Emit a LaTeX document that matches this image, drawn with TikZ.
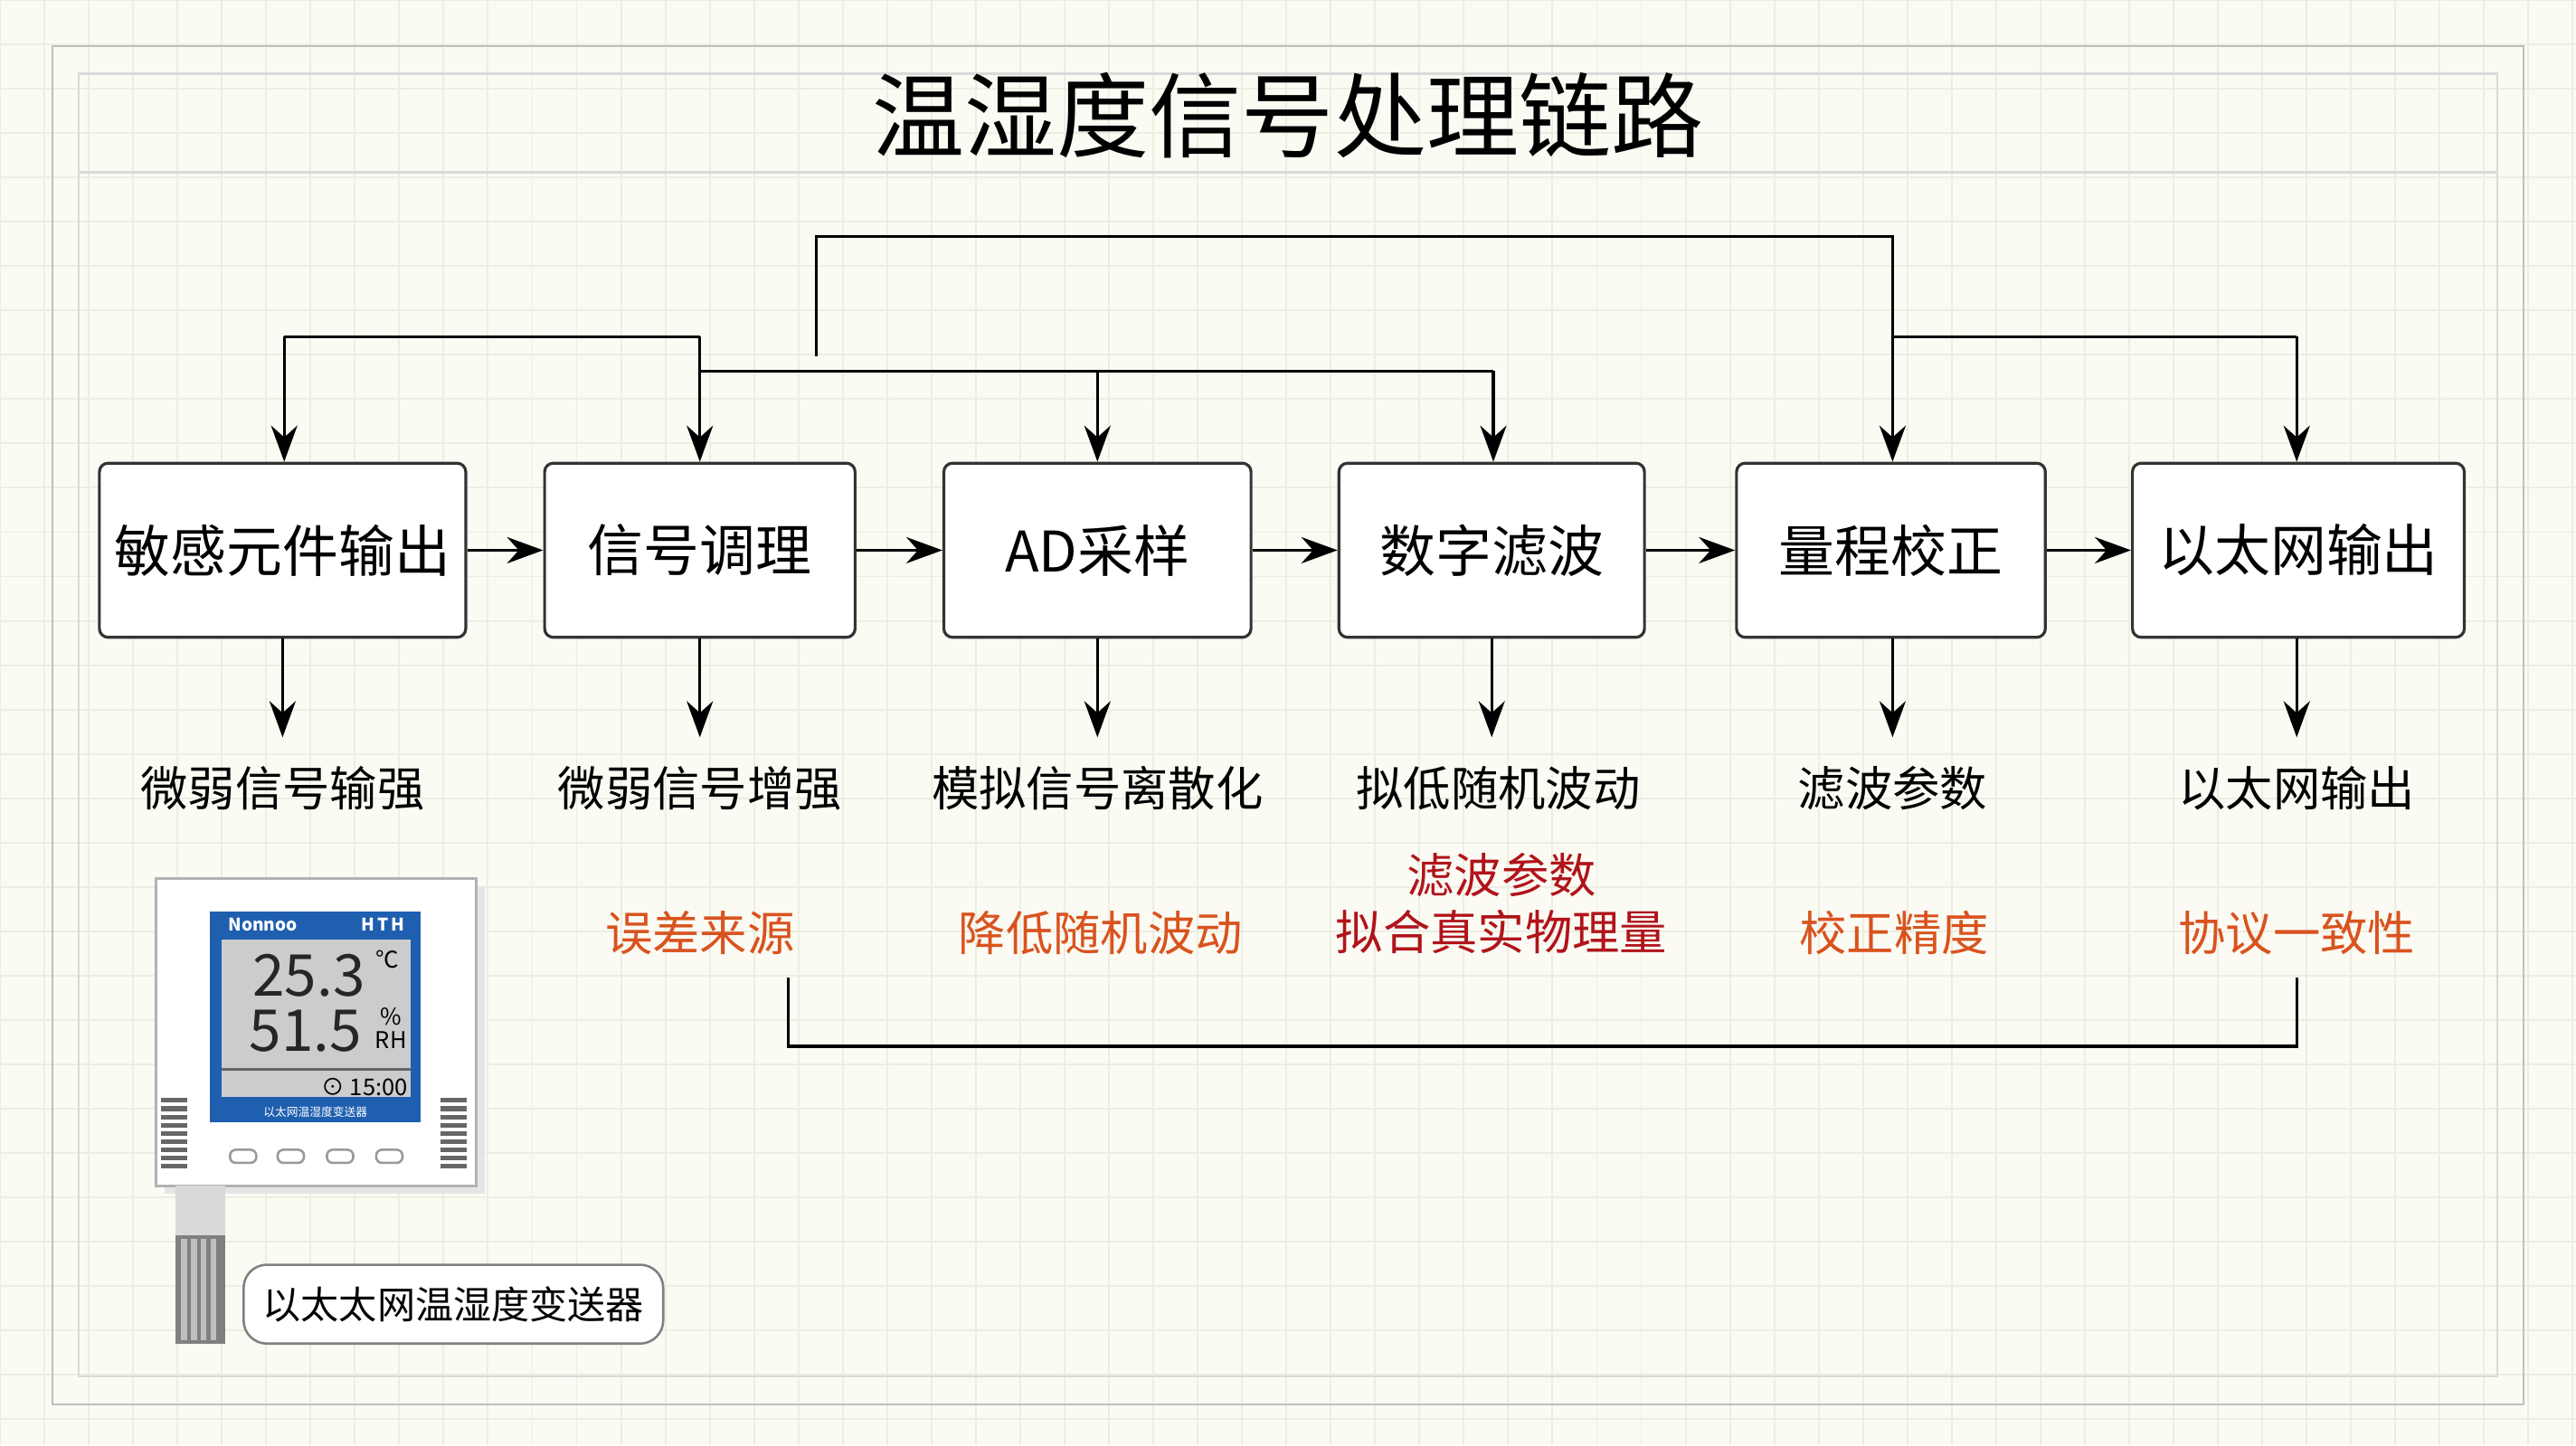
\documentclass[tikz,border=0pt]{standalone}
\usepackage{fontspec}
\setmainfont{Noto Sans CJK SC}
\usetikzlibrary{positioning,arrows.meta}

\definecolor{paper}{HTML}{FBFBF4}
\definecolor{gridc}{HTML}{ECEEE2}
\definecolor{warn}{HTML}{D9531E}
\definecolor{deepred}{HTML}{B0141A}
\definecolor{lcd}{HTML}{1F5FB0}

\tikzset{
  stage/.style={draw=black!80, rounded corners=1.5pt, fill=white, minimum height=10.6mm, font=\fontsize{9.7}{12}\selectfont, line width=0.5pt},
  effect/.style={font=\fontsize{8.2}{10}\selectfont},
  note/.style={font=\fontsize{8.2}{10}\selectfont, text=warn},
  flow/.style={-{Stealth[length=2.2mm,width=1.6mm]}, line width=0.5pt},
  link/.style={line width=0.5pt}
}

\begin{document}
\begin{tikzpicture}[x=0.1mm, y=-0.1mm]
  % paper and grid
  \fill[paper] (0,0) rectangle (1568,880);
  \useasboundingbox (0,0) rectangle (1568,880);
  \foreach \gx in {0,27,...,1568} \draw[gridc, line width=0.3pt] (\gx,0) -- (\gx,880);
  \foreach \gy in {0,27,...,880} \draw[gridc, line width=0.3pt] (0,\gy) -- (1568,\gy);
  \draw[black!25, line width=0.4pt] (32,28) rectangle (1536,855);
  \draw[black!15, line width=0.4pt] (48,45) rectangle (1520,838);
  \draw[black!15, line width=0.4pt] (48,105) -- (1520,105);

  \node[font=\fontsize{16}{19}\selectfont] (title) at (784,70) {温湿度信号处理链路};

  % stages
  \node[stage, minimum width=22.3mm, inner sep=1pt] (sense) at (172,335) {敏感元件输出};
  \node[stage, minimum width=18.9mm] (cond) at (426,335) {信号调理};
  \node[stage, minimum width=18.7mm] (adc) at (668,335) {AD采样};
  \node[stage, minimum width=18.6mm] (filt) at (908,335) {数字滤波};
  \node[stage, minimum width=18.8mm] (cal) at (1151,335) {量程校正};
  \node[stage, minimum width=20.2mm] (eth) at (1399,335) {以太网输出};

  \foreach \a/\b in {sense/cond, cond/adc, adc/filt, filt/cal, cal/eth}
    \draw[flow] (\a) -- (\b);

  % effects
  \node[effect] (e1) at (172,480) {微弱信号输强};
  \node[effect] (e2) at (426,480) {微弱信号增强};
  \node[effect] (e3) at (668,480) {模拟信号离散化};
  \node[effect] (e4) at (912,480) {拟低随机波动};
  \node[effect] (e5) at (1152,480) {滤波参数};
  \node[effect] (e6) at (1398,480) {以太网输出};
  \foreach \s/\e in {sense/e1, cond/e2, adc/e3, cal/e5, eth/e6}
    \draw[flow] (\s.south -| \e) -- ++(0,60);
  \draw[flow] (filt.south) -- ++(0,60);

  % notes
  \node[note] (n2) at (426,568) {误差来源};
  \node[note] (n3) at (670,568) {降低随机波动};
  \node[note, text=deepred, align=center] (n4) at (914,550) {滤波参数\\拟合真实物理量};
  \node[note] (n5) at (1153,568) {校正精度};
  \node[note] (n6) at (1398,568) {协议一致性};
  \draw[link] (480,595) |- (1398,637) -- (1398,595);

  % feedback lines above
  \coordinate (t1) at (173,205);
  \coordinate (t2) at (426,205);
  \draw[link] (t1) -- (t2);
  \draw[flow] (t1) -- (t1 |- sense.north);
  \draw[flow] (t2) -- (t2 |- cond.north);
  \coordinate (m1) at (426,226);
  \coordinate (m2) at (909,226);
  \draw[link] (m1) -- (m2);
  \draw[flow] (668,226) -- (adc.north);
  \draw[flow] (m2) -- (m2 |- filt.north);
  \coordinate (r1) at (497,217);
  \coordinate (r2) at (1152,144);
  \draw[flow] (r1) |- (r2) -- (r2 |- cal.north);
  \coordinate (s1) at (1152,205);
  \coordinate (s2) at (1398,205);
  \draw[link] (s1) -- (s2);
  \draw[flow] (s2) -- (s2 |- eth.north);

  % transmitter
  \fill[black!10] (100,540) rectangle (295,727);
  \draw[black!30, fill=white] (95,535) rectangle (290,722);
  \fill[lcd] (128,555) rectangle (256,683);
  \fill[black!20] (135,572) rectangle (250,668);
  \node[font=\fontsize{3}{3}\selectfont\bfseries, white] (brand) at (160,563) {Nonnoo};
  \node[font=\fontsize{3}{3}\selectfont\bfseries, white] (ht) at (233,563) {H\,T\,H};
  \node[font=\fontsize{10}{10}\selectfont, black!85, inner sep=0pt] (temp) at (188,594) {25.3};
  \node[font=\fontsize{4}{4}\selectfont, inner sep=0pt] (tu) at (236,584) {℃};
  \node[font=\fontsize{10}{10}\selectfont, black!85, inner sep=0pt] (hum) at (186,628) {51.5};
  \node[font=\fontsize{4}{4}\selectfont, align=center, inner sep=0pt] (hu) at (238,626) {\%\\RH};
  \draw[black!60, line width=0.6pt] (135,651) -- (250,651);
  \node[font=\fontsize{4}{4}\selectfont, inner sep=0pt] (clk) at (222,662) {⊙ 15:00};
  \node[font=\fontsize{2}{2}\selectfont, white] (model) at (192,677) {以太网温湿度变送器};
  \foreach \k in {0,...,8} {
    \draw[black!60, line width=0.8pt] (98,670+\k*5) -- (114,670+\k*5);
    \draw[black!60, line width=0.8pt] (268,670+\k*5) -- (284,670+\k*5);
  }
  \foreach \bx in {148,177,207,237}
    \draw[black!40, rounded corners=1pt] (\bx-8,700) rectangle (\bx+8,708);
  \fill[black!15] (107,722) rectangle (137,752);
  \fill[black!50] (107,752) rectangle (137,818);
  \foreach \px in {112,118,124,130}
    \draw[black!25, line width=1pt] (\px,754) -- (\px,816);
  \node[draw=black!50, rounded corners=4pt, fill=white, minimum width=24.8mm, minimum height=4.8mm, font=\fontsize{6.6}{8}\selectfont] (devname) at (276,794) {以太太网温湿度变送器};
\end{tikzpicture}
\end{document}
